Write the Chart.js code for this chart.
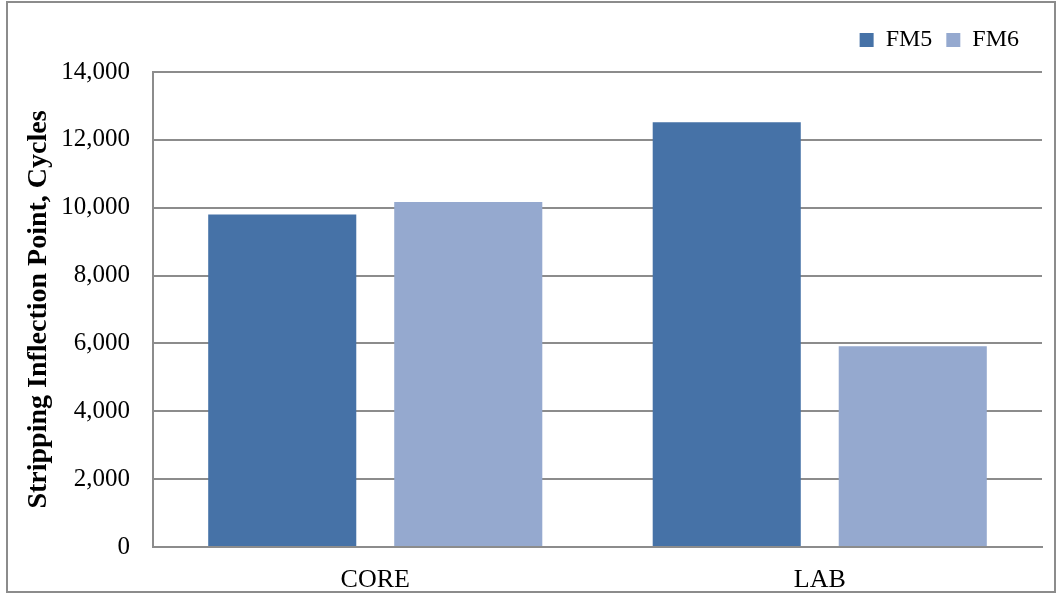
<!DOCTYPE html>
<html>
<head>
<meta charset="utf-8">
<script src="https://cdn.jsdelivr.net/npm/chart.js@4/dist/chart.umd.min.js"></script>
<style>
  body { margin: 0; background: #fff; }
  #wrap { position: relative; width: 1063px; height: 596px; }
  #frame { position: absolute; left: 6px; top: 1px; width: 1050px; height: 592px; border: 2px solid #8c8c8c; box-sizing: border-box; pointer-events: none; }
</style>
</head>
<body>
<div id="wrap">
  <canvas id="barChart" width="1063" height="596"></canvas>
  <div id="frame"></div>
</div>
<script>
// data
var categories = ['CORE', 'LAB'];
var fm5 = [9800, 12520];
var fm6 = [10170, 5920];
var yTicks = [0, 2000, 4000, 6000, 8000, 10000, 12000, 14000];

document.addEventListener('DOMContentLoaded', () => {

    var ctx = document.getElementById("barChart").getContext('2d');
    var serif = "'Liberation Serif', 'Times New Roman', serif";

    // legend: sit higher than the layout puts it and end left of the plot edge
    var legendTweak = {
        id: 'legendTweak',
        afterLayout: function (chart) {
            var lg = chart.legend;
            lg.right -= 9;
            lg.top -= 10;
            lg.bottom -= 10;
        }
    };

    var myBarChart = new Chart(ctx, {
        type: 'bar',
        data: {
            labels: categories,
            datasets: [
                { label: 'FM5', data: fm5, backgroundColor: '#4672A7', categoryPercentage: 0.837, barPercentage: 0.796 },
                { label: 'FM6', data: fm6, backgroundColor: '#95A9CF', categoryPercentage: 0.837, barPercentage: 0.796 }
            ]
        },
        options: {
            responsive: false,
            animation: false,
            layout: { padding: { top: 24, right: 21, left: 0, bottom: 0 } },
            plugins: {
                tooltip: { enabled: false },
                legend: {
                    position: 'top',
                    align: 'end',
                    labels: {
                        color: '#000',
                        font: { family: serif, size: 24 },
                        boxWidth: 14,
                        boxHeight: 14,
                        padding: 14
                    }
                }
            },
            scales: {
                x: {
                    grid: { display: false, drawTicks: false },
                    border: { display: true, color: '#8c8c8c', width: 2 },
                    ticks: { color: '#000', font: { family: serif, size: 26 }, padding: 18 },
                    afterFit: function (scale) { scale.height = 49; }
                },
                y: {
                    min: 0,
                    max: 14000,
                    afterBuildTicks: function (scale) {
                        scale.ticks = yTicks.map(function (v) { return { value: v }; });
                    },
                    grid: { color: '#8c8c8c', lineWidth: 2, drawTicks: false },
                    border: { display: true, color: '#8c8c8c', width: 2 },
                    ticks: {
                        color: '#000',
                        font: { family: serif, size: 25 },
                        padding: 23,
                        callback: function (v) { return v.toLocaleString('en-US'); }
                    },
                    title: {
                        display: true,
                        text: 'Stripping Inflection Point, Cycles',
                        color: '#000',
                        font: { family: serif, size: 28, weight: 'bold' },
                        padding: { top: 22, bottom: 0 }
                    },
                    afterFit: function (scale) { scale.width = 153; }
                }
            }
        },
        plugins: [legendTweak]
    });

});
</script>
</body>
</html>
